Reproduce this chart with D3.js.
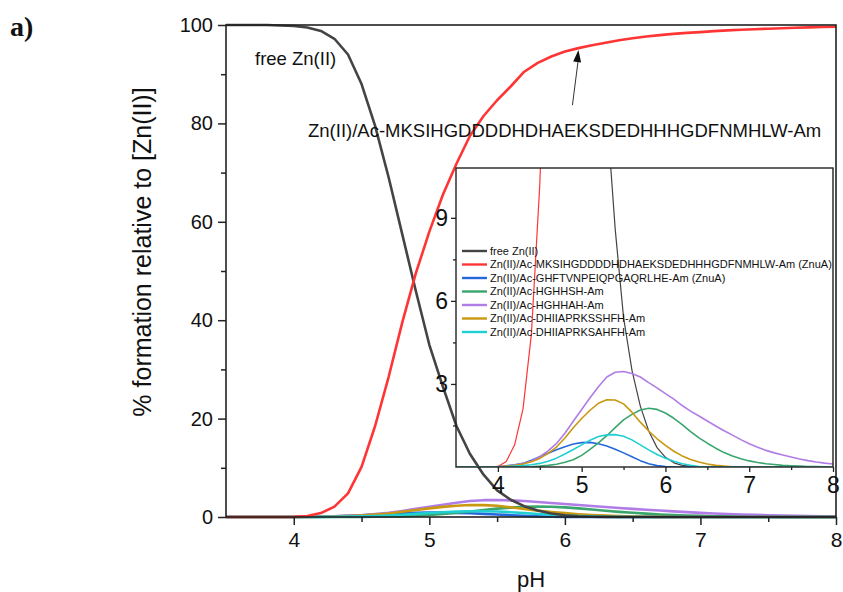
<!DOCTYPE html>
<html>
<head>
<meta charset="utf-8">
<script src="https://cdn.jsdelivr.net/npm/d3@7/dist/d3.min.js"></script>
<style>
  html, body { margin: 0; padding: 0; background: #fff; }
  svg { display: block; }
  text { font-family: "Liberation Sans", Arial, sans-serif; fill: #111; }
  text.panel { font-family: "Liberation Serif", "Times New Roman", serif; font-weight: bold; }
</style>
</head>
<body>
<svg id="chart" width="843" height="592"></svg>
<script>
// pH grid of the speciation calculation
const pH = [3.5, 3.6, 3.7, 3.8, 3.9, 4.0, 4.1, 4.2, 4.3, 4.4,
            4.5, 4.6, 4.7, 4.8, 4.9, 5.0, 5.1, 5.2, 5.3, 5.4,
            5.5, 5.6, 5.7, 5.8, 5.9, 6.0, 6.1, 6.2, 6.3, 6.4,
            6.5, 6.6, 6.7, 6.8, 6.9, 7.0, 7.1, 7.2, 7.3, 7.4,
            7.5, 7.6, 7.7, 7.8, 7.9, 8.0];

// % formation relative to total Zn(II)
const freeZn = [100, 100, 100, 100, 99.9, 99.8, 99.5, 98.8, 97.2, 94,
                88, 79.5, 69, 57.5, 46, 35, 26.5, 18.5, 12.8, 8.6,
                5.4, 3.5, 2.2, 1.3, 0.7, 0.35, 0.15, 0.06, 0.02, 0,
                0, 0, 0, 0, 0, 0, 0, 0, 0, 0,
                0, 0, 0, 0, 0, 0];
const znMKSIH = [0, 0, 0, 0, 0, 0.02, 0.2, 0.8, 2.1, 4.8,
                 10.2, 18.5, 28.5, 39.5, 49.5, 58, 65.5, 71.8, 77.5, 81.5,
                 84.7, 87.5, 90.5, 92.3, 93.6, 94.6, 95.3, 95.9, 96.4, 96.9,
                 97.3, 97.65, 97.95, 98.2, 98.4, 98.55, 98.75, 98.9, 99.05, 99.15,
                 99.25, 99.35, 99.45, 99.52, 99.6, 99.65];
const znGHFTV = [0, 0, 0, 0, 0, 0.01, 0.04, 0.08, 0.13, 0.24,
                 0.37, 0.5, 0.62, 0.73, 0.83, 0.88, 0.89, 0.84, 0.76, 0.64,
                 0.51, 0.37, 0.23, 0.12, 0.05, 0.02, 0, 0, 0, 0,
                 0, 0, 0, 0, 0, 0, 0, 0, 0, 0,
                 0, 0, 0, 0, 0, 0];
const znHGHHSH = [0, 0, 0, 0, 0, 0, 0, 0, 0, 0.01,
                  0.03, 0.06, 0.1, 0.17, 0.26, 0.42, 0.64, 0.87, 1.13, 1.42,
                  1.7, 1.9, 2.06, 2.12, 2.08, 1.95, 1.76, 1.53, 1.28, 1.05,
                  0.86, 0.68, 0.52, 0.4, 0.3, 0.22, 0.16, 0.12, 0.09, 0.06,
                  0.045, 0.03, 0.02, 0.015, 0.01, 0.01];
const znHGHHAH = [0, 0, 0, 0, 0, 0.01, 0.03, 0.07, 0.12, 0.22,
                  0.37, 0.58, 0.85, 1.22, 1.65, 2.08, 2.5, 2.9, 3.25, 3.42,
                  3.45, 3.38, 3.25, 3.05, 2.86, 2.65, 2.45, 2.22, 2.02, 1.84,
                  1.66, 1.48, 1.31, 1.15, 0.99, 0.84, 0.71, 0.6, 0.51, 0.43,
                  0.36, 0.29, 0.23, 0.18, 0.14, 0.11];
const znDHIISSH = [0, 0, 0, 0, 0, 0.01, 0.03, 0.06, 0.11, 0.19,
                   0.31, 0.49, 0.72, 1.05, 1.42, 1.75, 2.05, 2.3, 2.43, 2.42,
                   2.28, 1.98, 1.62, 1.3, 1.02, 0.78, 0.57, 0.4, 0.27, 0.18,
                   0.11, 0.06, 0.03, 0.01, 0, 0, 0, 0, 0, 0,
                   0, 0, 0, 0, 0, 0];
const znDHIISAH = [0, 0, 0, 0, 0, 0, 0.01, 0.03, 0.05, 0.08,
                   0.13, 0.21, 0.32, 0.47, 0.63, 0.8, 0.97, 1.1, 1.16, 1.17,
                   1.11, 0.98, 0.8, 0.62, 0.45, 0.32, 0.21, 0.12, 0.06, 0.02,
                   0, 0, 0, 0, 0, 0, 0, 0, 0, 0,
                   0, 0, 0, 0, 0, 0];

const seriesLabels = [
  "free Zn(II)",
  "Zn(II)/Ac-MKSIHGDDDDHDHAEKSDEDHHHGDFNMHLW-Am (ZnuA)",
  "Zn(II)/Ac-GHFTVNPEIQPGAQRLHE-Am (ZnuA)",
  "Zn(II)/Ac-HGHHSH-Am",
  "Zn(II)/Ac-HGHHAH-Am",
  "Zn(II)/Ac-DHIIAPRKSSHFH-Am",
  "Zn(II)/Ac-DHIIAPRKSAHFH-Am"
];
const seriesValues = [freeZn, znMKSIH, znGHFTV, znHGHHSH, znHGHHAH, znDHIISSH, znDHIISAH];
const seriesColors = ["#444444", "#ff3535", "#2468dc", "#3aa56c", "#b07ce6", "#c99810", "#20cfd2"];

// axis ticks
const mainXTicks = [4, 5, 6, 7, 8];
const mainXMinor = [4.5, 5.5, 6.5, 7.5];
const mainYTicks = [0, 20, 40, 60, 80, 100];
const mainYMinor = [10, 30, 50, 70, 90];
const insetXTicks = [4, 5, 6, 7, 8];
const insetXMinor = [4.5, 5.5, 6.5, 7.5];
const insetYTicks = [3, 6, 9];
const insetYMinor = [1.5, 4.5, 7.5];

const svg = d3.select("#chart");

const series = seriesLabels.map((name, i) => ({
  name, color: seriesColors[i],
  points: pH.map((p, j) => ({ x: p, y: seriesValues[i][j] }))
}));

// ---------- main panel ----------
const M = { left: 226, right: 836, top: 25, bottom: 517 };
const x = d3.scaleLinear().domain([3.5, 8]).range([M.left, M.right]);
const y = d3.scaleLinear().domain([0, 100]).range([M.bottom, M.top]);

svg.append("clipPath").attr("id", "mainClip")
  .append("rect").attr("x", M.left).attr("y", M.top - 2)
  .attr("width", M.right - M.left).attr("height", M.bottom - M.top + 4);

const mainLine = d3.line().x(d => x(d.x)).y(d => y(d.y));
const mainCurves = svg.append("g").attr("clip-path", "url(#mainClip)");
// small complexes first, then the two dominant species on top
[2, 3, 4, 5, 6, 0, 1].forEach(i => {
  mainCurves.append("path").datum(series[i].points)
    .attr("d", mainLine).attr("fill", "none")
    .attr("stroke", series[i].color).attr("stroke-width", 2.6)
    .attr("stroke-linejoin", "round");
});

// frame
svg.append("rect").attr("x", M.left).attr("y", M.top)
  .attr("width", M.right - M.left).attr("height", M.bottom - M.top)
  .attr("fill", "none").attr("stroke", "#222").attr("stroke-width", 1.6);

// axes
const xAxis = svg.append("g").attr("transform", `translate(0,${M.bottom})`)
  .call(d3.axisBottom(x).tickValues(mainXTicks).tickSize(8).tickPadding(7).tickFormat(d3.format("d")));
svg.append("g").attr("transform", `translate(0,${M.bottom})`)
  .call(d3.axisBottom(x).tickValues(mainXMinor).tickSize(5).tickFormat(""));
const yAxis = svg.append("g").attr("transform", `translate(${M.left},0)`)
  .call(d3.axisLeft(y).tickValues(mainYTicks).tickSize(8).tickPadding(5).tickFormat(d3.format("d")));
svg.append("g").attr("transform", `translate(${M.left},0)`)
  .call(d3.axisLeft(y).tickValues(mainYMinor).tickSize(5).tickFormat(""));
svg.selectAll(".domain").remove();
svg.selectAll(".tick line").attr("stroke", "#222").attr("stroke-width", 1.5);
xAxis.selectAll("text").attr("font-size", 21).attr("fill", "#111");
yAxis.selectAll("text").attr("font-size", 20).attr("fill", "#111");

// axis titles
svg.append("text").attr("x", (M.left + M.right) / 2).attr("y", 587)
  .attr("text-anchor", "middle").attr("font-size", 22).text("pH");
svg.append("text")
  .attr("transform", `translate(151,252) rotate(-90)`)
  .attr("text-anchor", "middle").attr("font-size", 25)
  .text("% formation relative to [Zn(II)]");

// panel letter
svg.append("text").attr("class", "panel").attr("x", 10).attr("y", 36)
  .attr("font-size", 28).text("a)");

// curve annotations
svg.append("text").attr("x", 255).attr("y", 64.5).attr("font-size", 18.5).text("free Zn(II)");
svg.append("text").attr("x", 308).attr("y", 136.5).attr("font-size", 18.5)
  .text("Zn(II)/Ac-MKSIHGDDDDHDHAEKSDEDHHHGDFNMHLW-Am");

// arrow pointing at the MKSIH complex curve
const tipIdx = pH.indexOf(6.1);
const tipX = x(pH[tipIdx]), tipY = y(znMKSIH[tipIdx]) + 2;
const tailX = tipX - 6, tailY = tipY + 55;
svg.append("line").attr("x1", tailX).attr("y1", tailY).attr("x2", tipX).attr("y2", tipY + 8)
  .attr("stroke", "#333").attr("stroke-width", 1);
{
  const ang = Math.atan2(tipY - tailY, tipX - tailX);
  const L = 12, W = 4;
  const bx = tipX - L * Math.cos(ang), by = tipY - L * Math.sin(ang);
  const px = -Math.sin(ang) * W, py = Math.cos(ang) * W;
  svg.append("path")
    .attr("d", `M${tipX},${tipY}L${bx + px},${by + py}L${bx - px},${by - py}Z`)
    .attr("fill", "#111");
}

// ---------- inset ----------
const I = { left: 456, right: 833, top: 168, bottom: 467 };
const xi = d3.scaleLinear().domain([3.5, 8]).range([I.left, I.right]);
const yi = d3.scaleLinear().domain([0, 10.8]).range([I.bottom, I.top]);

svg.append("clipPath").attr("id", "insetClip")
  .append("rect").attr("x", I.left).attr("y", I.top)
  .attr("width", I.right - I.left).attr("height", I.bottom - I.top);

const insetLine = d3.line().x(d => xi(d.x)).y(d => yi(d.y));
const insetCurves = svg.append("g").attr("clip-path", "url(#insetClip)");
series.forEach((s, i) => {
  insetCurves.append("path").datum(s.points)
    .attr("d", insetLine).attr("fill", "none")
    .attr("stroke", s.color).attr("stroke-width", i < 2 ? 1.2 : 1.6)
    .attr("stroke-linejoin", "round");
});

svg.append("rect").attr("x", I.left).attr("y", I.top)
  .attr("width", I.right - I.left).attr("height", I.bottom - I.top)
  .attr("fill", "none").attr("stroke", "#222").attr("stroke-width", 1.4);

const ixAxis = svg.append("g").attr("class", "inset").attr("transform", `translate(0,${I.bottom})`)
  .call(d3.axisBottom(xi).tickValues(insetXTicks).tickSize(5).tickPadding(5).tickFormat(d3.format("d")));
svg.append("g").attr("class", "inset").attr("transform", `translate(0,${I.bottom})`)
  .call(d3.axisBottom(xi).tickValues(insetXMinor).tickSize(3).tickFormat(""));
const iyAxis = svg.append("g").attr("class", "inset").attr("transform", `translate(${I.left},0)`)
  .call(d3.axisLeft(yi).tickValues(insetYTicks).tickSize(5).tickPadding(3).tickFormat(d3.format("d")));
svg.append("g").attr("class", "inset").attr("transform", `translate(${I.left},0)`)
  .call(d3.axisLeft(yi).tickValues(insetYMinor).tickSize(3).tickFormat(""));
svg.selectAll(".inset .domain").remove();
svg.selectAll(".inset .tick line").attr("stroke", "#222").attr("stroke-width", 1.3);
ixAxis.selectAll("text").attr("font-size", 23).attr("fill", "#111");
iyAxis.selectAll("text").attr("font-size", 23).attr("fill", "#111");

// legend inside the inset
const legend = svg.append("g").attr("transform", "translate(462,251)");
series.forEach((s, i) => {
  const row = legend.append("g").attr("transform", `translate(0,${i * 13.5})`);
  row.append("line").attr("x1", 0).attr("x2", 25).attr("y1", 0).attr("y2", 0)
    .attr("stroke", s.color).attr("stroke-width", 2.4);
  row.append("text").attr("x", 28).attr("y", 0).attr("dy", "0.35em")
    .attr("font-size", 11).text(s.name);
});
</script>
</body>
</html>
